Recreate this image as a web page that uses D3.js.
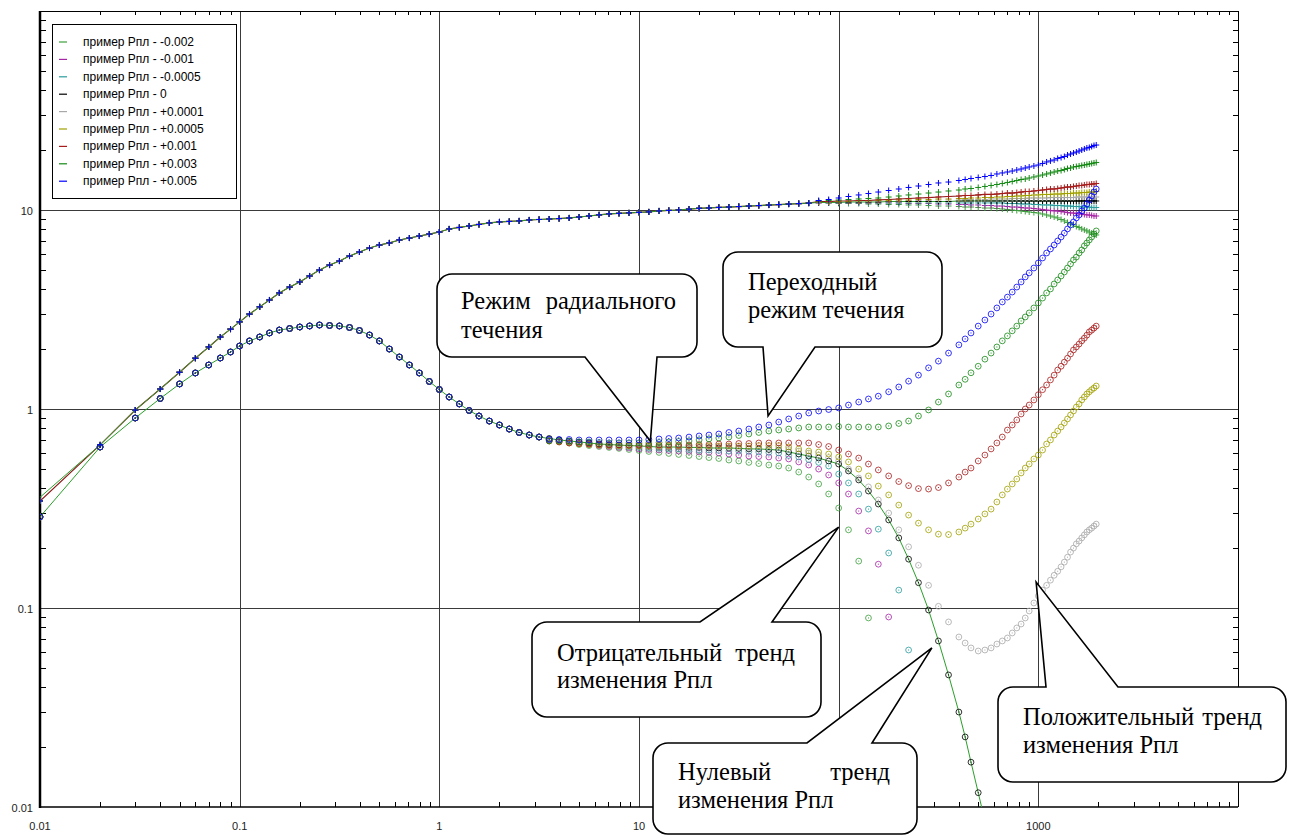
<!DOCTYPE html>
<html>
<head>
<meta charset="utf-8">
<script src="https://cdn.jsdelivr.net/npm/d3@7"></script>
<style>
  body { margin: 0; background: #fff; }
  svg { display: block; }
</style>
</head>
<body>
<svg id="chart" width="1290" height="836"></svg>
<script>
// Time grid (hours), shared by all series
var times = [0.01,0.02,0.03,0.04,0.05,0.06,0.07,0.08,0.09,
  0.1,0.112,0.126,0.141,0.158,0.178,0.2,0.224,0.251,0.282,0.316,0.355,0.398,0.447,0.501,0.562,0.631,0.708,0.794,0.891,
  1,1.12,1.26,1.41,1.58,1.78,2,2.24,2.51,2.82,3.16,3.55,3.98,4.47,5.01,5.62,6.31,7.08,7.94,8.91,
  10,11.2,12.6,14.1,15.8,17.8,20,22.4,25.1,28.2,31.6,35.5,39.8,44.7,50.1,56.2,63.1,70.8,79.4,89.1,
  100,112,126,141,158,178,200,224,251,282,316,355,
  400,430,460,500,540,580,620,660,700,740,780,820,860,900,950,1000,
  1050,1100,1150,1200,1250,1300,1350,1400,1450,1500,1550,1600,1650,1700,1750,1800,1850,1900,1950];

// Early part, identical for every series
var derivShared = [0.287,0.644,0.901,1.129,1.336,1.517,1.664,1.804,1.934,
  2.073,2.197,2.301,2.410,2.494,2.538,2.582,2.613,2.643,2.628,2.613,2.568,2.480,2.354,2.197,2.002,1.825,1.664,1.517,1.375,
  1.253,1.149,1.060,0.983,0.922,0.870,0.831,0.793,0.762,0.740,0.723];
var pressShared = [0.345,0.660,0.988,1.26,1.53,1.80,2.05,2.30,2.52,
  2.74,3.00,3.26,3.53,3.83,4.10,4.35,4.66,4.99,5.29,5.54,5.87,6.15,6.44,6.67,6.83,7.07,7.23,7.40,7.57,
  7.75,8.03,8.17,8.31,8.46,8.61,8.71,8.76,8.81,8.91,8.96,9.01,9.06,9.12,9.22,9.33,9.45,9.56,9.62,9.67,
  9.73,9.78,9.89,9.95,10.0,10.1,10.2,10.24,10.3,10.35,10.41,10.47,10.53,10.59,10.65,10.71,10.77,10.83];

// Derivative tails (from t = 3.55)
var derivNeg002 = [0.699,0.687,0.675,0.663,0.655,0.648,0.641,0.634,0.626,0.619,
  0.612,0.605,0.598,0.591,0.584,0.577,0.570,0.564,0.554,0.548,
  0.539,0.532,0.523,0.517,0.505,0.482,0.455,0.420,0.374,0.318,
  0.247,0.172,0.0891];
var derivNeg001 = [0.703,0.691,0.679,0.671,0.663,0.655,0.648,0.641,0.637,0.630,
  0.626,0.622,0.619,0.615,0.612,0.608,0.605,0.601,0.594,0.587,
  0.580,0.577,0.574,0.567,0.561,0.542,0.523,0.499,0.466,0.425,
  0.374,0.307,0.244,0.166,0.0901];
var derivNeg0005 = [0.707,0.695,0.687,0.679,0.671,0.663,0.655,0.648,0.644,0.641,
  0.637,0.634,0.630,0.630,0.626,0.622,0.622,0.619,0.615,0.615,
  0.612,0.608,0.605,0.601,0.584,0.574,0.557,0.539,0.517,0.471,
  0.425,0.374,0.314,0.249,0.189,0.123,0.0615];
var derivZero = [0.711,0.699,0.691,0.683,0.675,0.667,0.663,0.659,0.655,0.652,
  0.648,0.644,0.644,0.644,0.641,0.641,0.637,0.637,0.637,0.634,
  0.630,0.630,0.626,0.622,0.608,0.594,0.580,0.567,0.548,0.529,
  0.488,0.440,0.387,0.333,0.277,0.225,0.176,0.134,0.0977,0.0683,0.0461,
  0.0300,0.0225,0.0168,0.0118];
var derivPos0001 = [0.699,0.691,0.683,0.675,0.667,0.659,0.655,0.652,0.648,0.648,
  0.644,0.644,0.644,0.644,0.644,0.644,0.644,0.644,0.641,0.641,
  0.637,0.637,0.637,0.637,0.626,0.615,0.601,0.587,0.570,0.548,
  0.499,0.450,0.406,0.349,0.300,0.247,0.203,0.164,0.130,0.102,0.0851,
  0.0715,0.0667,0.0630,0.0608,0.0615,0.0630,0.0659,0.0683,0.0707,0.0749,0.0794,0.0831,0.0891,0.0966,0.106,0.115,
  0.123,0.130,0.138,0.146,0.153,0.161,0.170,0.180,0.191,0.200,0.210,0.217,0.225,0.233,0.241,0.247,0.252,0.258,0.264];
var derivPos0005 = [0.691,0.683,0.675,0.667,0.663,0.659,0.655,0.652,0.652,0.652,
  0.652,0.652,0.652,0.652,0.652,0.652,0.652,0.652,0.652,0.652,
  0.652,0.655,0.655,0.655,0.644,0.630,0.615,0.608,0.594,0.574,
  0.542,0.499,0.461,0.410,0.370,0.329,0.293,0.267,0.247,0.235,0.234,
  0.241,0.252,0.264,0.280,0.297,0.314,0.341,0.370,0.396,0.420,0.445,0.477,0.505,0.529,0.561,0.587,
  0.622,0.667,0.699,0.740,0.775,0.812,0.851,0.891,0.933,0.977,1.023,1.060,1.110,1.149,1.19,1.22,1.25,1.275,1.305];
var derivPos001 = [0.691,0.683,0.675,0.671,0.667,0.663,0.659,0.659,0.659,0.659,
  0.659,0.659,0.659,0.659,0.659,0.663,0.663,0.667,0.667,0.671,
  0.671,0.675,0.675,0.675,0.675,0.675,0.675,0.663,0.648,0.622,
  0.594,0.567,0.529,0.494,0.461,0.432,0.412,0.398,0.396,0.403,0.425,
  0.455,0.482,0.505,0.548,0.587,0.630,0.675,0.723,0.784,0.831,0.881,0.944,1.0,1.047,1.110,1.18,
  1.25,1.32,1.40,1.48,1.57,1.64,1.72,1.80,1.89,1.98,2.05,2.12,2.20,2.27,2.35,2.44,2.49,2.55,2.61];
var derivPos003 = [0.691,0.691,0.687,0.683,0.683,0.679,0.675,0.675,0.675,0.675,
  0.675,0.679,0.683,0.687,0.691,0.699,0.707,0.715,0.723,0.736,
  0.749,0.762,0.775,0.784,0.793,0.803,0.812,0.812,0.812,0.817,
  0.812,0.812,0.812,0.812,0.822,0.846,0.870,0.922,0.989,1.084,1.19,
  1.32,1.41,1.52,1.64,1.78,1.91,2.05,2.20,2.33,2.47,2.61,2.77,2.90,3.04,3.22,3.41,
  3.61,3.83,4.01,4.25,4.45,4.66,4.88,5.11,5.36,5.61,5.80,6.08,6.30,6.60,6.83,7.07,7.32,7.58,7.85];
var derivPos005 = [0.703,0.703,0.703,0.699,0.699,0.699,0.699,0.699,0.699,0.699,
  0.703,0.707,0.711,0.715,0.723,0.732,0.740,0.749,0.762,0.775,
  0.793,0.812,0.831,0.860,0.891,0.922,0.955,0.977,0.994,1.012,
  1.047,1.084,1.123,1.16,1.22,1.29,1.38,1.48,1.61,1.74,1.91,
  2.10,2.25,2.41,2.61,2.80,3.00,3.22,3.45,3.65,3.87,4.10,4.35,4.61,4.83,5.11,5.42,
  5.74,6.08,6.37,6.67,6.99,7.32,7.66,8.03,8.41,8.71,9.12,9.44,9.89,10.23,10.72,11.23,11.76,12.31,12.75];

// Pressure tails (from t = 79.4)
var pressNeg002 = [10.85,10.85,10.78,10.78,10.78,10.72,10.72,10.66,10.66,10.60,10.60,10.53,10.47,10.47,
  10.41,10.35,10.35,10.29,10.23,10.23,10.17,10.12,10.06,10.0,9.94,9.89,9.83,9.77,9.71,9.66,
  9.55,9.44,9.33,9.22,9.12,8.96,8.81,8.66,8.51,8.41,8.26,8.17,8.03,7.94,7.85,7.75,7.66,7.58,7.49];
var pressNeg001 = [10.85,10.85,10.85,10.85,10.85,10.85,10.85,10.85,10.85,10.78,10.78,10.78,10.72,10.72,
  10.66,10.66,10.60,10.60,10.53,10.53,10.47,10.47,10.41,10.35,10.35,10.29,10.23,10.23,10.17,10.12,
  10.06,10.0,9.94,9.89,9.89,9.83,9.77,9.71,9.66,9.66,9.60,9.55,9.55,9.49,9.44,9.44,9.39,9.33,9.33];
var pressNeg0005 = [10.91,10.85,10.85,10.85,10.85,10.85,10.85,10.85,10.85,10.85,10.85,10.85,10.85,10.85,
  10.85,10.85,10.85,10.85,10.85,10.85,10.85,10.85,10.78,10.78,10.78,10.72,10.72,10.72,10.66,10.66,
  10.60,10.60,10.60,10.53,10.53,10.53,10.47,10.47,10.47,10.41,10.41,10.41,10.35,10.35,10.35,10.35,10.29,10.29,10.29];
var pressZero = [10.91,10.91,10.91,10.97,10.97,10.97,10.97,11.03,11.03,11.03,11.03,11.03,11.03,11.03,
  11.10,11.10,11.10,11.10,11.10,11.10,11.10,11.10,11.10,11.10,11.10,11.10,11.10,11.10,11.10,11.10,
  11.10,11.10,11.10,11.10,11.10,11.10,11.10,11.10,11.10,11.10,11.10,11.10,11.10,11.10,11.10,11.10,11.10,11.10,11.10];
var pressPos0001 = [10.97,10.97,10.97,11.03,11.03,11.03,11.10,11.10,11.10,11.16,11.16,11.16,11.23,11.23,
  11.23,11.29,11.29,11.29,11.29,11.36,11.36,11.36,11.36,11.42,11.42,11.42,11.42,11.49,11.49,11.49,
  11.49,11.49,11.55,11.55,11.55,11.55,11.55,11.55,11.55,11.55,11.62,11.62,11.62,11.62,11.62,11.62,11.62,11.62,11.62];
var pressPos0005 = [10.97,10.97,11.03,11.03,11.10,11.10,11.16,11.16,11.23,11.23,11.29,11.29,11.36,11.36,
  11.42,11.42,11.49,11.49,11.55,11.55,11.62,11.62,11.69,11.69,11.76,11.76,11.83,11.83,11.90,11.90,
  11.97,11.97,11.97,12.03,12.03,12.03,12.10,12.10,12.10,12.17,12.17,12.17,12.24,12.24,12.24,12.31,12.31,12.31,12.39];
var pressPos001 = [11.03,11.03,11.10,11.10,11.16,11.16,11.23,11.29,11.36,11.42,11.49,11.55,11.62,11.69,
  11.76,11.83,11.83,11.90,11.97,11.97,12.03,12.10,12.17,12.17,12.24,12.31,12.39,12.39,12.46,12.53,
  12.60,12.68,12.75,12.75,12.82,12.90,12.98,13.05,13.05,13.13,13.20,13.28,13.28,13.36,13.43,13.43,13.51,13.51,13.59];
var pressPos003 = [11.10,11.16,11.23,11.29,11.36,11.42,11.49,11.62,11.76,11.90,12.03,12.17,12.31,12.46,
  12.60,12.75,12.82,12.98,13.13,13.28,13.43,13.59,13.75,13.91,14.07,14.23,14.31,14.48,14.65,14.82,
  14.99,15.17,15.35,15.52,15.70,15.79,15.98,16.16,16.26,16.45,16.54,16.64,16.74,16.83,16.93,17.03,17.13,17.23,17.33];
var pressPos005 = [11.16,11.29,11.49,11.69,11.90,12.10,12.31,12.53,12.75,12.98,13.20,13.43,13.67,13.82,
  14.07,14.23,14.40,14.57,14.73,14.91,15.17,15.35,15.52,15.70,15.89,16.07,16.26,16.45,16.64,16.83,
  17.13,17.43,17.64,17.84,18.16,18.35,18.57,18.89,19.11,19.34,19.56,19.79,20.02,20.26,20.49,20.61,20.85,21.09,21.21];

var seriesNames = ["пример Рпл - -0.002", "пример Рпл - -0.001", "пример Рпл - -0.0005", "пример Рпл - 0",
  "пример Рпл - +0.0001", "пример Рпл - +0.0005", "пример Рпл - +0.001", "пример Рпл - +0.003", "пример Рпл - +0.005"];
var seriesColors = ["#3c9f3c", "#a626a6", "#2a9c9c", "#000000", "#a8a8a8", "#a0a000", "#a81c1c", "#158a15", "#0000ff"];
var derivTails = [derivNeg002, derivNeg001, derivNeg0005, derivZero, derivPos0001, derivPos0005, derivPos001, derivPos003, derivPos005];
var pressTails = [pressNeg002, pressNeg001, pressNeg0005, pressZero, pressPos0001, pressPos0005, pressPos001, pressPos003, pressPos005];

// model curve start value and the point where it leaves the plot
var modelPressStart = 0.36;
var modelDerivEnd = 0.0085;

var xTickLabels = ["0.01", "0.1", "1", "10", "100", "1000"];
var yTickLabels = ["0.01", "0.1", "1", "10"];

var svg = d3.select("#chart");
var x = d3.scaleLog().domain([0.01, 10000]).range([40, 1238]);
var y = d3.scaleLog().domain([0.01, 100]).range([807, 11]);

svg.append("defs").append("clipPath").attr("id", "plotClip")
  .append("rect").attr("x", 40).attr("y", 11).attr("width", 1198).attr("height", 796);

// grid lines at decades
var decadesX = [0.1, 1, 10, 100, 1000];
var decadesY = [0.1, 1, 10];
var grid = svg.append("g").attr("stroke", "#3a3a3a").attr("stroke-width", 1);
decadesX.forEach(function (d) {
  grid.append("line").attr("x1", Math.round(x(d)) + 0.5).attr("x2", Math.round(x(d)) + 0.5)
    .attr("y1", 11).attr("y2", 807);
});
decadesY.forEach(function (d) {
  grid.append("line").attr("y1", Math.round(y(d)) + 0.5).attr("y2", Math.round(y(d)) + 0.5)
    .attr("x1", 40).attr("x2", 1238);
});

// minor ticks on all four sides
var ticks = svg.append("g").attr("stroke", "#000").attr("stroke-width", 1);
var startsX = [0.01, 0.1, 1, 10, 100, 1000];
startsX.forEach(function (d) {
  for (var k = 2; k <= 9; k++) {
    var px = Math.round(x(d * k)) + 0.5;
    ticks.append("line").attr("x1", px).attr("x2", px).attr("y1", 807).attr("y2", 802);
    ticks.append("line").attr("x1", px).attr("x2", px).attr("y1", 11).attr("y2", 15);
  }
});
var startsY = [0.01, 0.1, 1, 10];
startsY.forEach(function (d) {
  for (var k = 2; k <= 9; k++) {
    var py = Math.round(y(d * k)) + 0.5;
    ticks.append("line").attr("x1", 40).attr("x2", 46).attr("y1", py).attr("y2", py);
    ticks.append("line").attr("x1", 1238).attr("x2", 1233).attr("y1", py).attr("y2", py);
  }
});

// frame
svg.append("line").attr("x1", 40).attr("x2", 40).attr("y1", 11).attr("y2", 808).attr("stroke", "#000").attr("stroke-width", 2.5);
svg.append("line").attr("x1", 39).attr("x2", 1238).attr("y1", 807).attr("y2", 807).attr("stroke", "#000").attr("stroke-width", 1.5);
svg.append("line").attr("x1", 40).attr("x2", 1238).attr("y1", 11.5).attr("y2", 11.5).attr("stroke", "#000").attr("stroke-width", 1);
svg.append("line").attr("x1", 1238.5).attr("x2", 1238.5).attr("y1", 11).attr("y2", 807).attr("stroke", "#000").attr("stroke-width", 1);

// tick labels
var lab = svg.append("g").attr("font-family", "'Liberation Sans', Arial, sans-serif").attr("font-size", 11).attr("fill", "#222");
xTickLabels.forEach(function (t) {
  lab.append("text").attr("x", x(+t)).attr("y", 830).attr("text-anchor", "middle").text(t);
});
yTickLabels.forEach(function (t) {
  lab.append("text").attr("x", 33).attr("y", y(+t) + 5).attr("text-anchor", "end").text(t);
});

// curves
var plot = svg.append("g").attr("clip-path", "url(#plotClip)");
function pts(vals) {
  return vals.map(function (v, i) { return { t: times[i], v: v }; });
}
var line = d3.line().x(function (d) { return x(d.t); }).y(function (d) { return y(d.v); });

// model curves (green) and the early data line
var modelPress = [modelPressStart].concat(pressShared.slice(1), pressZero);
var modelDeriv = derivShared.concat(derivZero, [modelDerivEnd]);
plot.append("path").datum(pts(pressShared.concat(pressPos001))).attr("d", line)
  .attr("fill", "none").attr("stroke", "#8b1a1a").attr("stroke-width", 1.2);
plot.append("path").datum(pts(modelPress)).attr("d", line)
  .attr("fill", "none").attr("stroke", "#2aa02a").attr("stroke-width", 1);
plot.append("path").datum(pts(modelDeriv)).attr("d", line)
  .attr("fill", "none").attr("stroke", "#2aa02a").attr("stroke-width", 1);

seriesNames.forEach(function (name, i) {
  var c = seriesColors[i];
  var g = plot.append("g");
  var dp = pts(derivShared.concat(derivTails[i]));
  var pp = pts(pressShared.concat(pressTails[i]));
  g.selectAll(null).data(dp).enter().append("circle")
    .attr("cx", function (d) { return x(d.t); })
    .attr("cy", function (d) { return y(d.v); })
    .attr("r", 2.9).attr("fill", "none").attr("stroke", c).attr("stroke-width", 1).attr("stroke-opacity", 0.8);
  g.selectAll(null).data(dp).enter().append("rect")
    .attr("x", function (d) { return x(d.t) - 0.5; })
    .attr("y", function (d) { return y(d.v) - 0.5; })
    .attr("width", 1).attr("height", 1).attr("fill", c);
  g.selectAll(null).data(pp).enter().append("path")
    .attr("d", function (d) {
      var px = x(d.t), py = y(d.v);
      return "M" + (px - 3) + "," + py + "H" + (px + 3) + "M" + px + "," + (py - 3) + "V" + (py + 3);
    })
    .attr("stroke", c).attr("stroke-width", 1).attr("fill", "none");
});

// legend
var leg = svg.append("g").attr("font-family", "'Liberation Sans', Arial, sans-serif").attr("font-size", 12);
leg.append("rect").attr("x", 52.5).attr("y", 24.5).attr("width", 184).attr("height", 174)
  .attr("fill", "#fff").attr("stroke", "#000").attr("stroke-width", 1);
seriesNames.forEach(function (name, i) {
  var ly = 42 + i * 17.4;
  leg.append("line").attr("x1", 59).attr("x2", 67).attr("y1", ly).attr("y2", ly)
    .attr("stroke", seriesColors[i]).attr("stroke-width", 1.2);
  leg.append("text").attr("x", 83).attr("y", ly + 4).attr("fill", "#000").text(name);
});

// callouts
function calloutPath(b) {
  var r = 15, x0 = b.x0, y0 = b.y0, x1 = b.x1, y1 = b.y1;
  var tx = x(b.tipT), ty = y(b.tipV);
  var p = "M" + (x0 + r) + "," + y0;
  if (b.side === "top") p += "L" + b.a + "," + y0 + "L" + tx + "," + ty + "L" + b.b + "," + y0;
  p += "L" + (x1 - r) + "," + y0 + "A" + r + "," + r + " 0 0 1 " + x1 + "," + (y0 + r);
  p += "L" + x1 + "," + (y1 - r) + "A" + r + "," + r + " 0 0 1 " + (x1 - r) + "," + y1;
  if (b.side === "bottom") p += "L" + b.b + "," + y1 + "L" + tx + "," + ty + "L" + b.a + "," + y1;
  p += "L" + (x0 + r) + "," + y1 + "A" + r + "," + r + " 0 0 1 " + x0 + "," + (y1 - r);
  p += "L" + x0 + "," + (y0 + r) + "A" + r + "," + r + " 0 0 1 " + (x0 + r) + "," + y0 + "Z";
  return p;
}
var callouts = [
  { x0: 437, y0: 274, x1: 697, y1: 357, side: "bottom", a: 585, b: 657, tipT: 11.4, tipV: 0.69,
    lines: [["Режим", "радиального", 461, 676, 309], ["течения", null, 461, 0, 338]] },
  { x0: 723, y0: 252, x1: 942, y1: 347, side: "bottom", a: 763, b: 815, tipT: 44.3, tipV: 0.923,
    lines: [["Переходный", null, 748, 0, 290], ["режим течения", null, 748, 0, 318]] },
  { x0: 532, y0: 622, x1: 821, y1: 717, side: "top", a: 700, b: 772, tipT: 100, tipV: 0.255,
    lines: [["Отрицательный", "тренд", 557, 795, 661], ["изменения Рпл", null, 557, 0, 688]] },
  { x0: 653, y0: 743, x1: 917, y1: 834, side: "top", a: 807, b: 872, tipT: 293, tipV: 0.063,
    lines: [["Нулевый", "тренд", 678, 890, 780], ["изменения Рпл", null, 678, 0, 808]] },
  { x0: 998, y0: 687, x1: 1286, y1: 782, side: "top", a: 1046, b: 1118, tipT: 975, tipV: 0.135,
    lines: [["Положительный", "тренд", 1023, 1262, 725], ["изменения Рпл", null, 1023, 0, 753]] }
];
var cg = svg.append("g");
callouts.forEach(function (b) {
  cg.append("path").attr("d", calloutPath(b)).attr("fill", "#fff").attr("stroke", "#000")
    .attr("stroke-width", 1.6).attr("stroke-linejoin", "miter");
  b.lines.forEach(function (l) {
    cg.append("text").attr("x", l[2]).attr("y", l[4]).attr("font-family", "'Liberation Serif', 'Times New Roman', serif")
      .attr("font-size", 24.5).attr("fill", "#000").text(l[0]);
    if (l[1]) {
      cg.append("text").attr("x", l[3]).attr("y", l[4]).attr("text-anchor", "end")
        .attr("font-family", "'Liberation Serif', 'Times New Roman', serif")
        .attr("font-size", 24.5).attr("fill", "#000").text(l[1]);
    }
  });
});
</script>
</body>
</html>
